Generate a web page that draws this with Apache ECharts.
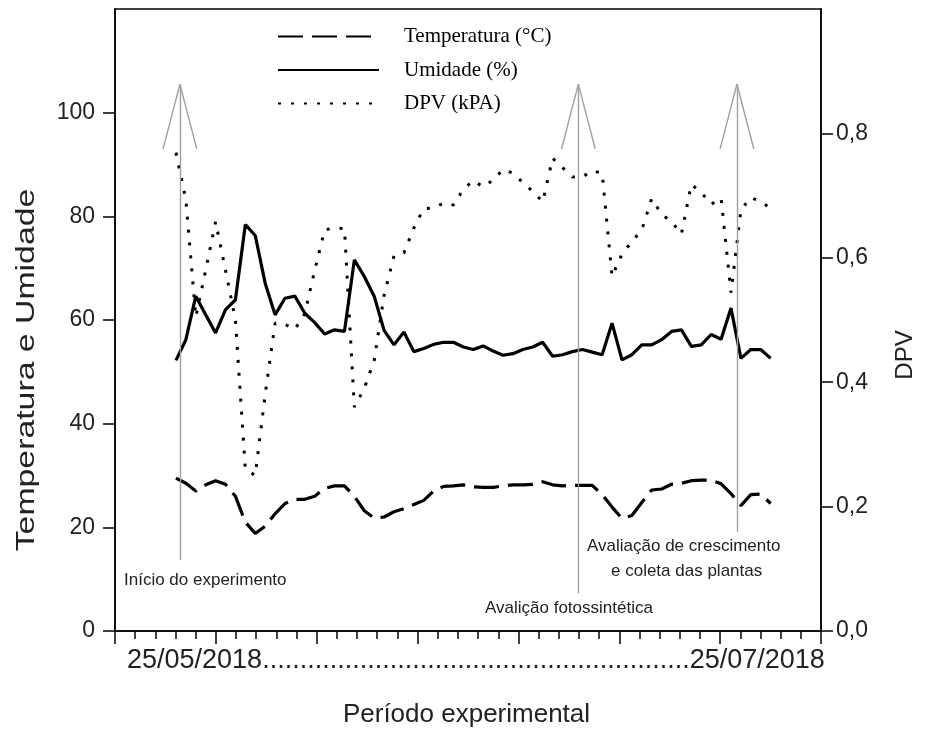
<!DOCTYPE html>
<html>
<head>
<meta charset="utf-8">
<script src="https://cdn.jsdelivr.net/npm/echarts@6/dist/echarts.min.js"></script>
<style>
  html, body { margin: 0; padding: 0; background: #fff; }
  #main { width: 933px; height: 749px; }
</style>
</head>
<body>
<div id="main"></div>
<script>
// valores (um ponto por dia, 25/05 -> 25/07)
var temperatura = [29.5, 28.5, 27.0, 28.2, 29.0, 28.3, 26.0, 21.0, 18.8, 20.2,
  22.6, 24.6, 25.4, 25.4, 26.0, 27.5, 28.0, 28.0, 26.0, 23.2,
  21.8, 22.0, 23.0, 23.6, 24.4, 25.2, 27.0, 27.9, 28.0, 28.2,
  27.8, 27.7, 27.7, 28.0, 28.2, 28.2, 28.3, 28.8, 28.2, 28.0,
  28.1, 28.1, 28.1, 26.3, 23.9, 21.7, 22.3, 24.8, 27.2, 27.4,
  28.3, 28.5, 29.0, 29.1, 29.1, 28.4, 26.5, 24.2, 26.3, 26.4, 24.6];
var umidade = [52.2, 56.2, 64.6, 61.0, 57.5, 62.0, 63.9, 78.4, 76.3, 67.1,
  61.0, 64.2, 64.6, 61.3, 59.5, 57.3, 58.1, 57.8, 71.6, 68.4,
  64.6, 58.0, 55.2, 57.7, 53.9, 54.5, 55.3, 55.7, 55.7, 54.8,
  54.3, 55.0, 54.0, 53.2, 53.5, 54.3, 54.8, 55.7, 53.0, 53.3,
  53.9, 54.3, 53.8, 53.3, 59.4, 52.3, 53.3, 55.2, 55.2, 56.2,
  57.8, 58.1, 54.9, 55.2, 57.2, 56.3, 62.3, 52.6, 54.3, 54.3, 52.6];
var dpv = [0.769, 0.693, 0.505, 0.580, 0.658, 0.580, 0.500, 0.260, 0.250, 0.380,
  0.495, 0.493, 0.485, 0.510, 0.580, 0.645, 0.648, 0.647, 0.360, 0.390,
  0.435, 0.540, 0.603, 0.608, 0.648, 0.679, 0.680, 0.688, 0.685, 0.710,
  0.724, 0.714, 0.725, 0.742, 0.736, 0.721, 0.707, 0.690, 0.760, 0.745,
  0.730, 0.730, 0.740, 0.736, 0.570, 0.606, 0.626, 0.645, 0.695, 0.670,
  0.658, 0.638, 0.718, 0.705, 0.686, 0.696, 0.544, 0.677, 0.697, 0.690, 0.680];
var dias = temperatura.map(function (v, i) { return i; });

var leftTicks = [0, 20, 40, 60, 80, 100];
var rightTicks = [0, 0.2, 0.4, 0.6, 0.8];

// setas de eventos (dia, base no eixo da esquerda)
var setaDias = [0.4, 40.6, 56.6];
var setaBase = [13.7, 7.3, 19.1];
var setaTopo = 105.5, setaAsa = 93, setaLargura = 1.7;

var fonte = "'Liberation Sans', Arial, sans-serif";

function pares(col) {
  return col.map(function (v, k) { return [dias[k], v]; });
}

var setas = [];
setaDias.forEach(function (d, k) {
  setas.push([{ coord: [d, setaBase[k]] }, { coord: [d, setaTopo] }]);
  setas.push([{ coord: [d - setaLargura, setaAsa] }, { coord: [d, setaTopo] }]);
  setas.push([{ coord: [d + setaLargura, setaAsa] }, { coord: [d, setaTopo] }]);
});

var myChart = echarts.init(document.getElementById('main'));

var option = {
  backgroundColor: '#fff',
  animation: false,
  grid: {
    left: 115, right: 112, top: 9, bottom: 118,
    show: true, borderColor: '#000', borderWidth: 1.5, backgroundColor: 'transparent'
  },
  legend: {
    orient: 'vertical',
    left: 272, top: 21,
    itemWidth: 101, itemHeight: 14, itemGap: 12.5,
    itemStyle: { opacity: 0 },
    lineStyle: { opacity: 1 },
    textStyle: { fontFamily: "'Liberation Serif', 'Times New Roman', serif", fontSize: 21, lineHeight: 20, color: '#000', padding: [0, 0, 0, 20] },
    data: ['Temperatura (°C)', 'Umidade (%)', 'DPV (kPA)']
  },
  xAxis: [{
    // eixo só para as marcas
    type: 'value', min: 0, max: 35, interval: 5,
    axisLine: { show: true, onZero: false, lineStyle: { color: '#000', width: 1.5 } },
    axisTick: { show: true, length: 13, lineStyle: { color: '#000', width: 1.5 } },
    minorTick: { show: true, splitNumber: 5, length: 8, lineStyle: { color: '#000', width: 1.5 } },
    axisLabel: { show: false },
    splitLine: { show: false },
    minorSplitLine: { show: false }
  }, {
    // eixo dos dados (dias)
    type: 'value', min: -6.15, max: 65.08, show: false,
    axisLine: { onZero: false },
    splitLine: { show: false }
  }],
  yAxis: [{
    type: 'value', min: 0, max: 120, interval: 20,
    axisLine: { show: true, onZero: false, lineStyle: { color: '#000', width: 1.5 } },
    axisTick: { show: true, length: 12, customValues: leftTicks, lineStyle: { color: '#000', width: 1.5 } },
    axisLabel: { customValues: leftTicks, fontFamily: fonte, fontSize: 23, color: '#222', margin: 20 },
    splitLine: { show: false }
  }, {
    type: 'value', min: 0, max: 1, interval: 0.2, position: 'right',
    axisLine: { show: true, onZero: false, lineStyle: { color: '#000', width: 1.5 } },
    axisTick: { show: true, length: 12, customValues: rightTicks, lineStyle: { color: '#000', width: 1.5 } },
    axisLabel: {
      customValues: rightTicks, fontFamily: fonte, fontSize: 23, color: '#222', margin: 15,
      formatter: function (v) { return v.toFixed(1).replace('.', ','); }
    },
    splitLine: { show: false }
  }],
  series: [{
    name: 'Temperatura (°C)',
    type: 'line', xAxisIndex: 1, yAxisIndex: 0,
    symbol: 'none',
    lineStyle: { color: '#000', width: 3.2, type: [25, 9] },
    itemStyle: { color: '#000' },
    data: pares(temperatura),
    markLine: {
      silent: true, symbol: ['none', 'none'],
      label: { show: false },
      lineStyle: { color: '#a0a0a0', width: 1.4, type: 'solid' },
      data: setas
    }
  }, {
    name: 'Umidade (%)',
    type: 'line', xAxisIndex: 1, yAxisIndex: 0,
    symbol: 'none',
    lineStyle: { color: '#000', width: 3.2, type: 'solid' },
    itemStyle: { color: '#000' },
    data: pares(umidade)
  }, {
    name: 'DPV (kPA)',
    type: 'line', xAxisIndex: 1, yAxisIndex: 1,
    symbol: 'none',
    lineStyle: { color: '#000', width: 3, type: [3, 10] },
    itemStyle: { color: '#000' },
    data: pares(dpv)
  }],
  graphic: [
    { type: 'text', left: 124, top: 572, style: { text: 'Início do experimento', font: '17px ' + fonte, fill: '#222' } },
    { type: 'text', left: 485, top: 600, style: { text: 'Avalição fotossintética', font: '17px ' + fonte, fill: '#222' } },
    { type: 'text', left: 587, top: 538, style: { text: 'Avaliação de crescimento', font: '17px ' + fonte, fill: '#222' } },
    { type: 'text', left: 611, top: 563, style: { text: 'e coleta das plantas', font: '17px ' + fonte, fill: '#222' } },
    { type: 'text', left: 127, top: 647, style: { text: '25/05/2018.........................................................25/07/2018', font: '27px ' + fonte, fill: '#222' } },
    { type: 'text', left: 'center', top: 702, style: { text: 'Período experimental', font: '26px ' + fonte, fill: '#222' } },
    { type: 'text', x: 27, y: 370, rotation: Math.PI / 2, scaleX: 1.3, style: { text: 'Temperatura e Umidade', font: '26px ' + fonte, fill: '#222', align: 'center', verticalAlign: 'middle' } },
    { type: 'text', x: 905, y: 355, rotation: Math.PI / 2, style: { text: 'DPV', font: '24px ' + fonte, fill: '#222', align: 'center', verticalAlign: 'middle' } }
  ]
};

myChart.setOption(option);
</script>
</body>
</html>
